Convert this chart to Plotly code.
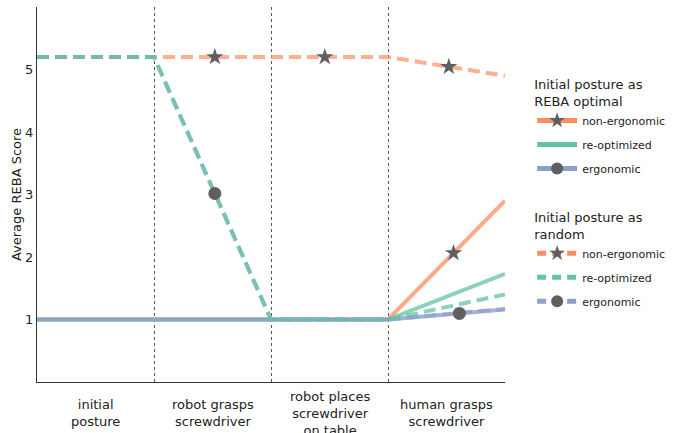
import numpy as np
import plotly.graph_objects as go

# ---- data ----
stages = ["initial<br>posture", "robot grasps<br>screwdriver",
          "robot places<br>screwdriver<br>on table", "human grasps<br>screwdriver"]
boundaries = [0, 1, 2, 3, 4]

opt_non_ergonomic = [1.0, 1.0, 1.0, 1.0, 2.9]
opt_reoptimized = [1.0, 1.0, 1.0, 1.0, 1.73]
opt_ergonomic = [1.0, 1.0, 1.0, 1.0, 1.16]
rnd_non_ergonomic = [5.2, 5.2, 5.2, 5.2, 4.9]
rnd_reoptimized = [5.2, 5.2, 1.0, 1.0, 1.4]
rnd_ergonomic = [5.2, 5.2, 1.0, 1.0, 1.17]

# marker positions along the stage axis
opt_non_ergonomic_marks = [3.56]
opt_ergonomic_marks = [3.61]
rnd_non_ergonomic_marks = [1.52, 2.46, 3.52]
rnd_ergonomic_marks = [1.52]

series_names = ["non-ergonomic", "re-optimized", "ergonomic"]
legend_titles = ["Initial posture as<br>REBA optimal", "Initial posture as<br>random"]

# ---- styles ----
ORANGE = (252, 141, 98)
GREEN = (102, 194, 165)
BLUE = (141, 160, 203)
MARK = "#5f5f5f"
DASH = "12px,6px"


def rgba(c, a):
    return "rgba(%d,%d,%d,%.2f)" % (c[0], c[1], c[2], a)


fig = go.Figure()

# lines (draw order matters for overlap colours)
line_specs = [
    (opt_non_ergonomic, ORANGE, "solid", 0.75),
    (opt_reoptimized, GREEN, "solid", 0.75),
    (opt_ergonomic, BLUE, "solid", 0.8),
    (rnd_non_ergonomic, ORANGE, DASH, 0.7),
    (rnd_ergonomic, BLUE, DASH, 0.7),
    (rnd_reoptimized, GREEN, DASH, 0.75),
]
for vals, col, dash, a in line_specs:
    fig.add_trace(go.Scatter(x=boundaries, y=vals, mode="lines",
                             line=dict(color=rgba(col, a), width=4, dash=dash),
                             showlegend=False, hoverinfo="skip"))

# markers
mark_specs = [
    (opt_non_ergonomic, opt_non_ergonomic_marks, "star"),
    (opt_ergonomic, opt_ergonomic_marks, "circle"),
    (rnd_non_ergonomic, rnd_non_ergonomic_marks, "star"),
    (rnd_ergonomic, rnd_ergonomic_marks, "circle"),
]
for vals, mx, sym in mark_specs:
    my = np.interp(mx, boundaries, vals)
    fig.add_trace(go.Scatter(x=mx, y=my, mode="markers",
                             marker=dict(symbol=sym, size=13, color=MARK,
                                         line=dict(width=0)),
                             showlegend=False, hoverinfo="skip"))

# legend entries
symbols = ["star", None, "circle"]
colors = [ORANGE, GREEN, BLUE]
for li, (lg, dash) in enumerate([("legend", "solid"), ("legend2", "9px,6px")]):
    for k, name in enumerate(series_names):
        sym = symbols[k]
        fig.add_trace(go.Scatter(
            x=[None], y=[None], name=name, legend=lg,
            mode="lines+markers" if sym else "lines",
            line=dict(color=rgba(colors[k], 1.0), width=4, dash=dash),
            marker=dict(symbol=sym or "circle", size=13, color=MARK, line=dict(width=0)),
            legendgroup="%s_%d" % (lg, k), legendrank=k + 1))

# stage labels
for i, s in enumerate(stages):
    fig.add_annotation(x=(boundaries[i] + boundaries[i + 1]) / 2, y=-0.083,
                       xref="x", yref="paper", text=s, showarrow=False,
                       yanchor="middle", xanchor="center",
                       font=dict(size=13, color="#222"))

legend_common = dict(xanchor="left", yanchor="top", bgcolor="rgba(0,0,0,0)",
                     font=dict(size=11, color="#222"), itemsizing="constant",
                     traceorder="grouped", tracegroupgap=5, itemwidth=40)
fig.update_layout(
    width=682, height=433,
    margin=dict(l=37, r=177, t=7, b=51, autoexpand=False),
    plot_bgcolor="white", paper_bgcolor="white",
    font=dict(family="DejaVu Sans", size=13, color="#222"),
    xaxis=dict(range=[0, 4], showticklabels=False, ticks="", showgrid=False,
               showline=True, linecolor="#333", linewidth=1, zeroline=False,
               tickvals=[0.5, 1.5, 2.5, 3.5], automargin=False,
               minor=dict(dtick=1, tick0=0, showgrid=True, griddash="dot",
                          gridcolor="#555", gridwidth=1, ticks="")),
    yaxis=dict(range=[0, 6], tickvals=[1, 2, 3, 4, 5], showgrid=False,
               showline=True, linecolor="#333", linewidth=1, zeroline=False,
               ticks="", tickfont=dict(size=13, color="#222"), automargin=False,
               title=dict(text="Average REBA Score", font=dict(size=13), standoff=0)),
    legend=dict(x=1.058, y=0.826,
                title=dict(text=legend_titles[0], font=dict(size=13, color="#222")),
                **legend_common),
    legend2=dict(x=1.058, y=0.472,
                 title=dict(text=legend_titles[1], font=dict(size=13, color="#222")),
                 **legend_common),
)

fig.write_html("out.html", config={"displayModeBar": False},
               post_script="document.body.style.margin='0';document.body.style.overflow='hidden';")
